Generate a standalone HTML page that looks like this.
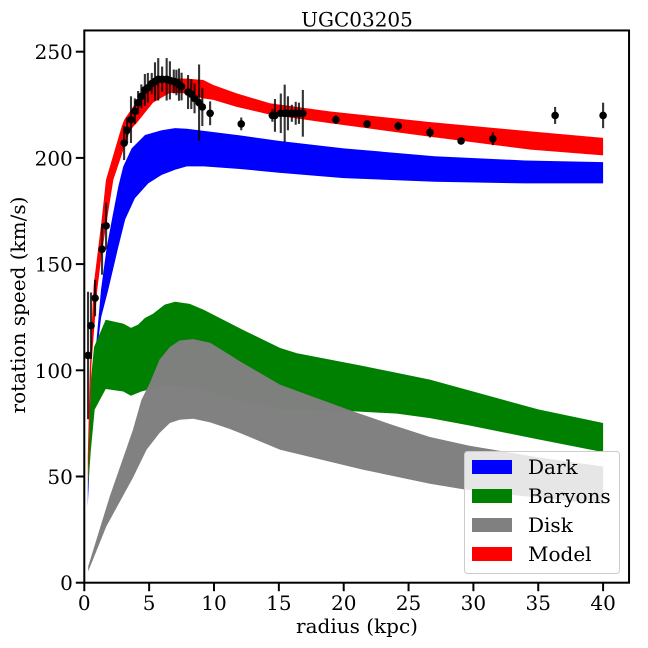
<!DOCTYPE html>
<html lang="en">
<head>
<meta charset="utf-8">
<title>UGC03205</title>
<style>
html,body{margin:0;padding:0;background:#fff;}
svg{display:block;}
text{font-family:"DejaVu Serif","Liberation Serif",serif;font-size:20px;fill:#000;}
</style>
</head>
<body>
<svg id="chart" xmlns="http://www.w3.org/2000/svg" width="648" height="648" viewBox="0 0 648 648">
<rect x="0" y="0" width="648" height="648" fill="#fff"/>
<g id="bands"></g>
<g id="points"></g>
<g id="axes"></g>
<text x="357" y="26.5" text-anchor="middle">UGC03205</text>
<text x="357" y="633" text-anchor="middle">radius (kpc)</text>
<text transform="translate(25,305) rotate(-90)" text-anchor="middle">rotation speed (km/s)</text>
<g id="legend">
<rect x="464.5" y="451.5" width="155" height="122" rx="3" fill="#fff" fill-opacity="0.8" stroke="#cccccc" stroke-width="1"/>
<g><rect x="472" y="460" width="40" height="14" fill="#0000ff"/><text x="528" y="474">Dark</text></g>
<g><rect x="472" y="489" width="40" height="14" fill="#008000"/><text x="528" y="503">Baryons</text></g>
<g><rect x="472" y="518" width="40" height="14" fill="#808080"/><text x="528" y="532">Disk</text></g>
<g><rect x="472" y="547" width="40" height="14" fill="#ff0000"/><text x="528" y="561">Model</text></g>
</g>
</svg>
<script>
const xTicks = [0, 5, 10, 15, 20, 25, 30, 35, 40];
const yTicks = [0, 50, 100, 150, 200, 250];

const darkUpperR = [0.27, 0.5, 1, 1.29, 1.73, 2.13, 2.62, 3, 3.65, 4.68, 5.97, 7, 7.9, 12, 15, 20, 27, 34, 40];
const darkUpperV = [45, 85, 118, 138, 158, 171, 186.5, 195.9, 204.5, 210.8, 213, 214, 213.7, 210.6, 208, 204.5, 200.8, 198.8, 198];
const darkLowerR = [0.27, 0.5, 1, 1.3, 1.85, 2.62, 3.15, 3.9, 4.93, 5.97, 7, 7.9, 9.2, 12, 15, 20, 27, 34, 40];
const darkLowerV = [36, 70, 110, 125, 138, 158, 171, 181, 188, 192, 194.4, 196, 196, 194.8, 193, 190.5, 188.8, 188, 188];

const baryonUpperR = [0.3, 0.5, 0.75, 1.65, 3, 3.6, 4.15, 4.67, 5.3, 6.2, 7, 8.13, 9.2, 12.25, 15.1, 16.4, 21.5, 26.65, 29.7, 35, 40];
const baryonUpperV = [55, 95, 111, 123.8, 122, 120, 121.5, 124.6, 126.6, 130.9, 132.3, 131.3, 128.5, 119, 110.5, 108, 102, 95.6, 90.5, 81.6, 75.2];
const baryonLowerR = [0.3, 0.5, 0.8, 1.65, 3, 3.6, 4.4, 6.3, 8.5, 11.2, 15.1, 20.7, 24.1, 26.65, 29.7, 35, 40];
const baryonLowerV = [45, 62, 81.5, 91.2, 90, 88, 90, 93, 91.5, 87, 81.5, 80.7, 79.6, 77.5, 74, 67.5, 61.5];

const diskUpperR = [0.3, 1.96, 3.75, 4.4, 5.05, 5.8, 6.6, 7.35, 8.4, 9.7, 11.2, 12, 15.1, 20.7, 24.1, 26.65, 29.7, 35, 40];
const diskUpperV = [7.7, 40.6, 72, 86, 94, 105, 111, 114, 114.7, 113, 107.3, 104.2, 93.2, 80.7, 73.6, 68.6, 64.5, 59, 54.7];
const diskLowerR = [0.3, 1.7, 3.75, 4.8, 5.8, 6.6, 7.35, 8.4, 9.7, 11.2, 12, 15.1, 21.5, 26.65, 29.2, 35, 40];
const diskLowerV = [5.3, 26.5, 49.4, 62.6, 70.5, 75.2, 76.7, 77.2, 75.5, 72.4, 70.5, 62.6, 53.2, 46.6, 44, 40, 37];

const modelUpperR = [0.27, 0.44, 0.72, 1.34, 1.67, 2.88, 3.08, 4.05, 4.8, 5.8, 6.85, 7.9, 9.18, 9.95, 11.75, 14.3, 18.9, 26.6, 34.4, 40];
const modelUpperV = [60, 103, 140, 171, 189.6, 214.7, 218, 226.6, 232, 236, 237.4, 237.3, 236.7, 234.3, 230.4, 225.7, 221.9, 216.9, 212.5, 209.4];
const modelLowerR = [0.27, 0.55, 1, 1.35, 1.75, 2.24, 3.52, 4.05, 5.3, 6.6, 7.6, 9.18, 9.95, 11.75, 14.3, 18.9, 26.6, 34.4, 40];
const modelLowerV = [45, 103, 138, 155, 171, 189.7, 213, 216.5, 226, 230.6, 230.5, 228, 227.3, 224, 220.4, 216.4, 210, 203.9, 201.2];

const obsRadius = [0.29, 0.52, 0.83, 1.37, 1.68, 3.07, 3.3, 3.6, 3.9, 4.15, 4.4, 4.67, 4.9, 5.2, 5.45, 5.7, 6, 6.35, 6.6, 6.9, 7.1, 7.3, 7.5, 8, 8.25, 8.5, 8.85, 9.1, 9.7, 12.1, 14.5, 14.7, 15.15, 15.45, 15.7, 16, 16.3, 16.55, 16.85, 19.4, 21.8, 24.2, 26.65, 29.05, 31.5, 36.3, 40];
const obsSpeed = [107, 121, 134, 157, 168, 207, 213, 218, 222, 226, 229, 232, 233, 235, 236, 237, 237, 237, 236.5, 236, 235.5, 234.5, 233.6, 231, 230, 228, 226, 224, 221, 216, 220, 220, 221, 221, 221, 221, 221, 221, 221, 218, 216, 215, 212, 208, 209, 220, 220];
const obsError = [30, 15.6, 8.6, 12, 11, 8, 6, 11, 6, 5.5, 5.6, 7.5, 7, 5, 9, 10, 6, 10, 9, 5.6, 6, 7.6, 6.5, 8, 7, 7, 18, 9, 5.6, 3, 3, 7.7, 9.3, 13.5, 8, 4, 5.4, 5, 11, 2, 1, 2, 2.4, 1, 3, 4, 6];

const NS = 'http://www.w3.org/2000/svg';
function xScale(r) { return 84.3 + r * 12.97; }
function yScale(v) { return 582.7 - v * 2.124; }

function edgePoints(rs, vs) {
  return rs.map(function (r, i) { return xScale(r).toFixed(2) + ',' + yScale(vs[i]).toFixed(2); });
}
function addBand(name, color, opacity, upR, upV, loR, loV) {
  const poly = document.createElementNS(NS, 'polygon');
  const pts = edgePoints(upR, upV).concat(edgePoints(loR, loV).reverse());
  poly.setAttribute('points', pts.join(' '));
  poly.setAttribute('fill', color);
  poly.setAttribute('fill-opacity', opacity);
  
  
  document.getElementById('bands').appendChild(poly);
}
addBand('dark-band', '#0000ff', 1, darkUpperR, darkUpperV, darkLowerR, darkLowerV);
addBand('baryons-band', '#008000', 1, baryonUpperR, baryonUpperV, baryonLowerR, baryonLowerV);
addBand('disk-band', '#808080', 0.99, diskUpperR, diskUpperV, diskLowerR, diskLowerV);
addBand('model-band', '#ff0000', 1, modelUpperR, modelUpperV, modelLowerR, modelLowerV);

const pointsGroup = document.getElementById('points');
obsRadius.forEach(function (r, i) {
  const bar = document.createElementNS(NS, 'line');
  bar.setAttribute('x1', xScale(r));
  bar.setAttribute('x2', xScale(r));
  bar.setAttribute('y1', yScale(obsSpeed[i] + obsError[i]));
  bar.setAttribute('y2', yScale(obsSpeed[i] - obsError[i]));
  bar.setAttribute('stroke', '#000');
  bar.setAttribute('stroke-opacity', '0.8');
  bar.setAttribute('stroke-width', '2.1');
  
  
  pointsGroup.appendChild(bar);
});
obsRadius.forEach(function (r, i) {
  const dot = document.createElementNS(NS, 'circle');
  dot.setAttribute('cx', xScale(r));
  dot.setAttribute('cy', yScale(obsSpeed[i]));
  dot.setAttribute('r', '3.8');
  dot.setAttribute('fill', '#000');
  
  
  pointsGroup.appendChild(dot);
});

const axesGroup = document.getElementById('axes');
const frame = document.createElementNS(NS, 'rect');
frame.setAttribute('x', xScale(0));
frame.setAttribute('y', yScale(260));
frame.setAttribute('width', xScale(42) - xScale(0));
frame.setAttribute('height', yScale(0) - yScale(260));
frame.setAttribute('fill', 'none');
frame.setAttribute('stroke', '#000');
frame.setAttribute('stroke-width', '2');


axesGroup.appendChild(frame);

xTicks.forEach(function (t) {
  const tick = document.createElementNS(NS, 'line');
  tick.setAttribute('x1', xScale(t));
  tick.setAttribute('x2', xScale(t));
  tick.setAttribute('y1', yScale(0));
  tick.setAttribute('y2', yScale(0) + 8.5);
  tick.setAttribute('stroke', '#000');
  tick.setAttribute('stroke-width', '2');
  
  
  axesGroup.appendChild(tick);
  const label = document.createElementNS(NS, 'text');
  label.setAttribute('x', xScale(t));
  label.setAttribute('y', yScale(0) + 27.5);
  label.setAttribute('text-anchor', 'middle');
  
  
  label.textContent = t;
  axesGroup.appendChild(label);
});
yTicks.forEach(function (t) {
  const tick = document.createElementNS(NS, 'line');
  tick.setAttribute('x1', xScale(0));
  tick.setAttribute('x2', xScale(0) - 8.5);
  tick.setAttribute('y1', yScale(t));
  tick.setAttribute('y2', yScale(t));
  tick.setAttribute('stroke', '#000');
  tick.setAttribute('stroke-width', '2');
  
  
  axesGroup.appendChild(tick);
  const label = document.createElementNS(NS, 'text');
  label.setAttribute('x', xScale(0) - 11.5);
  label.setAttribute('y', yScale(t) + 7.5);
  label.setAttribute('text-anchor', 'end');
  
  
  label.textContent = t;
  axesGroup.appendChild(label);
});
</script>
</body>
</html>
